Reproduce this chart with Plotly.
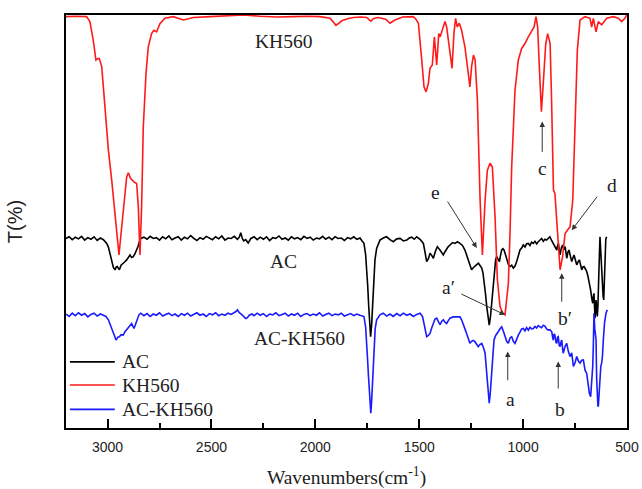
import plotly.graph_objects as go

# FTIR spectra, offset vertically for display. Each entry: (wavenumber cm-1, T %).
kh560_points = [
    (3200, 99.6), (3150, 99.7), (3101, 99.6), (3085, 98.4), (3069, 93.9), (3056, 89.1),
    (3048, 89.4), (3040, 89.5), (3028, 87.5), (3012, 77.8), (2996, 67.3), (2980, 60.0),
    (2964, 51.1), (2953, 45.5), (2945, 41.9), (2935, 47.1), (2921, 55.2), (2908, 60.8),
    (2900, 61.8), (2889, 60.4), (2873, 59.6), (2860, 59.2), (2852, 53.6), (2844, 41.9),
    (2836, 53.6), (2828, 72.9), (2815, 85.8), (2804, 92.3), (2788, 95.5), (2777, 96.3),
    (2764, 95.9), (2748, 97.9), (2724, 99.2), (2684, 99.6), (2635, 98.8), (2587, 99.4),
    (2507, 99.6), (2427, 99.8), (2347, 100.0), (2266, 99.7), (2186, 99.5), (2106, 99.6),
    (2040, 99.7), (1978, 99.6), (1929, 99.2), (1915, 98.4), (1901, 97.5), (1887, 98.0),
    (1873, 98.6), (1845, 99.1), (1817, 99.4), (1780, 99.5), (1753, 99.4), (1740, 98.8),
    (1733, 98.5), (1721, 99.1), (1700, 99.4), (1680, 99.2), (1660, 98.9), (1641, 98.0),
    (1617, 98.8), (1580, 99.5), (1540, 99.6), (1528, 99.6), (1516, 99.0), (1504, 98.0),
    (1488, 89.1), (1477, 82.6), (1467, 81.4), (1456, 83.4), (1448, 87.1), (1437, 87.9),
    (1427, 94.7), (1416, 87.9), (1406, 95.5), (1400, 94.7), (1392, 95.9), (1376, 98.4),
    (1368, 97.1), (1352, 91.5), (1342, 87.1), (1333, 95.5), (1325, 99.2), (1317, 97.1),
    (1307, 98.0), (1296, 96.3), (1280, 92.3), (1268, 87.5), (1256, 82.6), (1248, 87.5),
    (1239, 90.3), (1231, 89.1), (1220, 79.4), (1207, 55.2), (1196, 41.9), (1183, 55.2),
    (1172, 62.4), (1159, 64.1), (1148, 63.2), (1135, 51.1), (1124, 36.0), (1111, 29.4),
    (1098, 27.8), (1087, 27.4), (1071, 35.0), (1063, 47.1), (1055, 63.2), (1039, 81.8),
    (1023, 89.1), (1007, 91.9), (991, 93.1), (975, 94.7), (959, 95.9), (947, 97.1),
    (938, 99.6), (930, 97.1), (922, 87.5), (912, 76.6), (903, 83.4), (891, 93.1),
    (882, 95.5), (870, 93.1), (863, 79.4), (854, 57.6), (847, 56.8), (838, 50.0),
    (830, 43.9), (822, 38.3), (810, 41.5), (798, 47.1), (787, 47.9), (774, 48.7),
    (761, 55.2), (750, 71.3), (739, 91.5), (726, 98.8), (702, 99.6), (678, 99.2),
    (670, 97.1), (662, 99.2), (649, 95.9), (638, 98.4), (622, 97.6), (598, 99.2),
    (566, 99.6), (542, 99.2), (526, 98.4), (510, 99.2), (502, 100.0),
]

ac_points = [
    (3200, 45.9), (3185, 46.3), (3170, 45.6), (3155, 46.2), (3140, 45.8), (3125, 46.4),
    (3110, 45.5), (3095, 46.1), (3080, 45.7), (3065, 46.3), (3050, 45.4), (3035, 46.0),
    (3020, 45.6), (3004, 44.7), (2996, 43.8), (2988, 42.3), (2980, 40.3), (2972, 38.9),
    (2964, 38.3), (2958, 39.0), (2953, 39.1), (2948, 38.6), (2943, 38.3), (2935, 39.4),
    (2927, 39.9), (2918, 40.2), (2908, 40.7), (2900, 41.2), (2892, 41.9), (2884, 41.3),
    (2876, 41.5), (2868, 42.2), (2860, 43.1), (2853, 44.0), (2847, 45.1), (2840, 45.9),
    (2825, 46.2), (2810, 45.7), (2795, 46.4), (2780, 45.9), (2765, 46.1), (2750, 45.5),
    (2735, 46.3), (2720, 45.8), (2705, 46.5), (2690, 45.6), (2675, 46.0), (2660, 46.3),
    (2645, 45.5), (2630, 46.2), (2615, 45.8), (2600, 46.6), (2585, 45.9), (2570, 45.4),
    (2555, 46.1), (2540, 45.7), (2525, 46.4), (2510, 46.0), (2495, 45.6), (2480, 46.3),
    (2465, 45.8), (2450, 46.5), (2435, 45.5), (2420, 46.0), (2405, 45.9), (2390, 46.4),
    (2375, 45.7), (2366, 46.2), (2359, 47.3), (2352, 46.0), (2345, 45.3), (2335, 45.6),
    (2323, 44.8), (2310, 45.9), (2295, 46.3), (2280, 45.6), (2265, 46.2), (2250, 45.7),
    (2235, 46.3), (2220, 45.4), (2205, 46.1), (2190, 45.9), (2175, 46.5), (2160, 45.7),
    (2145, 46.0), (2130, 45.5), (2115, 46.3), (2100, 45.8), (2085, 46.1), (2070, 45.6),
    (2055, 46.4), (2040, 45.9), (2025, 46.2), (2010, 45.5), (1995, 46.0), (1980, 45.8),
    (1965, 46.4), (1950, 45.7), (1935, 46.2), (1920, 45.6), (1905, 46.3), (1890, 45.9),
    (1875, 46.0), (1860, 45.4), (1845, 46.1), (1830, 45.8), (1815, 46.3), (1800, 45.7),
    (1785, 46.0), (1775, 45.3), (1766, 44.7), (1758, 42.0), (1753, 39.1), (1748, 34.5),
    (1743, 29.4), (1738, 24.5), (1734, 22.1), (1729, 25.0), (1724, 31.0), (1718, 37.0),
    (1713, 40.7), (1705, 43.5), (1697, 44.7), (1689, 45.5), (1673, 46.0), (1657, 46.3),
    (1641, 45.6), (1625, 45.1), (1608, 45.8), (1592, 45.9), (1576, 45.3), (1560, 45.5),
    (1548, 46.0), (1536, 46.2), (1524, 45.7), (1512, 46.3), (1496, 45.7), (1480, 44.7),
    (1472, 42.5), (1464, 40.3), (1456, 41.0), (1448, 42.3), (1440, 41.8), (1432, 41.1),
    (1422, 42.8), (1413, 43.9), (1400, 43.1), (1392, 42.4), (1384, 41.9), (1378, 42.5),
    (1371, 43.1), (1362, 43.8), (1352, 44.3), (1340, 44.9), (1328, 44.7), (1316, 45.1),
    (1304, 44.7), (1292, 44.2), (1280, 43.1), (1272, 41.8), (1264, 40.3), (1256, 39.0),
    (1248, 38.3), (1240, 38.8), (1231, 39.1), (1222, 39.6), (1215, 39.9), (1207, 39.4),
    (1199, 38.7), (1193, 37.5), (1188, 35.8), (1181, 32.5), (1175, 29.4), (1169, 26.5),
    (1163, 24.9), (1157, 27.0), (1150, 31.0), (1144, 35.5), (1138, 39.1), (1132, 40.8),
    (1127, 41.5), (1120, 40.6), (1114, 40.3), (1108, 42.0), (1103, 43.1), (1097, 43.4),
    (1092, 43.1), (1085, 42.0), (1079, 40.7), (1071, 39.6), (1063, 39.1), (1055, 39.4),
    (1047, 38.7), (1039, 39.2), (1031, 40.3), (1023, 41.8), (1015, 43.1), (1007, 43.6),
    (999, 44.3), (991, 43.8), (983, 44.6), (975, 44.7), (967, 44.2), (959, 45.0),
    (951, 44.7), (943, 45.2), (935, 44.6), (927, 45.1), (919, 45.6), (911, 45.9),
    (903, 45.2), (895, 45.7), (887, 45.5), (879, 46.0), (871, 46.3), (863, 45.4),
    (855, 44.7), (846, 43.6), (838, 43.1), (834, 44.2), (830, 44.7), (826, 43.0),
    (822, 41.9), (816, 43.6), (810, 44.3), (804, 43.2), (798, 43.9), (794, 42.5),
    (790, 41.1), (784, 42.6), (779, 43.1), (772, 41.5), (766, 40.3), (760, 41.2),
    (755, 41.9), (748, 40.6), (742, 39.5), (735, 40.3), (729, 40.7), (723, 39.4),
    (718, 38.3), (712, 39.0), (707, 39.1), (700, 38.5), (694, 37.9), (689, 37.0),
    (684, 35.8), (680, 34.8), (675, 33.4), (670, 31.5), (665, 30.2), (662, 31.8),
    (659, 32.6), (656, 29.0), (654, 26.6), (651, 28.5), (649, 31.0), (646, 29.2),
    (643, 27.0), (640, 29.5), (638, 31.8), (634, 40.0), (630, 46.3), (627, 43.5),
    (625, 40.7), (622, 37.0), (619, 33.4), (615, 32.0), (612, 31.0), (609, 37.0),
    (606, 44.7), (602, 45.8), (598, 46.3),
]

ac_kh560_points = [
    (3200, 27.6), (3185, 27.0), (3170, 27.8), (3155, 27.2), (3140, 27.9), (3125, 27.3),
    (3110, 27.7), (3095, 26.9), (3080, 27.5), (3065, 27.8), (3050, 27.1), (3035, 27.6),
    (3020, 27.3), (3008, 27.0), (2996, 26.2), (2985, 24.8), (2972, 22.9), (2965, 21.8),
    (2959, 21.3), (2951, 22.0), (2943, 22.1), (2935, 22.6), (2925, 22.5), (2916, 23.3),
    (2905, 24.0), (2895, 24.5), (2884, 25.3), (2878, 24.6), (2873, 24.1), (2866, 25.0),
    (2860, 25.7), (2854, 26.7), (2849, 27.4), (2840, 27.8), (2825, 27.2), (2810, 27.7),
    (2795, 27.0), (2780, 27.6), (2765, 27.3), (2750, 27.9), (2735, 27.1), (2720, 27.5),
    (2705, 27.8), (2690, 27.2), (2675, 27.6), (2660, 27.0), (2645, 27.7), (2630, 27.3),
    (2615, 27.8), (2600, 27.1), (2585, 27.5), (2570, 27.9), (2555, 27.3), (2540, 27.6),
    (2525, 27.0), (2510, 27.7), (2495, 27.4), (2480, 27.9), (2465, 27.2), (2450, 27.6),
    (2435, 27.3), (2420, 27.8), (2405, 27.5), (2390, 27.9), (2382, 28.2), (2375, 28.6),
    (2366, 27.9), (2355, 27.5), (2345, 27.0), (2335, 26.5), (2327, 26.7), (2318, 27.3),
    (2305, 27.6), (2295, 27.2), (2280, 27.8), (2265, 27.3), (2250, 27.7), (2235, 27.0),
    (2220, 27.6), (2205, 27.4), (2190, 27.9), (2175, 27.2), (2160, 27.5), (2145, 27.8),
    (2130, 27.1), (2115, 27.6), (2100, 27.3), (2085, 27.8), (2070, 27.0), (2055, 27.5),
    (2040, 27.7), (2025, 27.2), (2010, 27.6), (1995, 27.3), (1980, 27.9), (1965, 27.1),
    (1950, 27.5), (1935, 27.8), (1920, 27.2), (1905, 27.6), (1890, 27.4), (1875, 27.8),
    (1860, 27.1), (1845, 27.5), (1830, 27.7), (1815, 27.2), (1800, 27.6), (1785, 27.3),
    (1775, 27.1), (1766, 27.0), (1758, 24.5), (1753, 21.3), (1749, 17.0), (1745, 13.2),
    (1741, 9.0), (1737, 5.2), (1733, 3.6), (1729, 6.5), (1726, 10.0), (1722, 15.5),
    (1718, 20.5), (1712, 24.0), (1705, 26.2), (1697, 27.0), (1689, 27.4), (1673, 27.8),
    (1657, 27.1), (1641, 27.6), (1625, 27.0), (1608, 27.7), (1592, 27.2), (1576, 27.8),
    (1560, 27.3), (1544, 27.6), (1528, 27.0), (1512, 27.5), (1496, 27.8), (1484, 27.0),
    (1472, 24.5), (1464, 22.1), (1456, 22.4), (1448, 22.9), (1440, 24.2), (1432, 25.3),
    (1424, 26.4), (1416, 26.6), (1408, 25.6), (1400, 25.0), (1392, 25.8), (1384, 26.2),
    (1376, 25.6), (1368, 25.3), (1360, 26.0), (1352, 26.6), (1336, 26.9), (1320, 26.9),
    (1304, 26.9), (1296, 26.2), (1288, 25.3), (1280, 24.0), (1272, 22.9), (1264, 21.8),
    (1256, 20.5), (1248, 21.0), (1240, 21.2), (1232, 20.9), (1224, 20.2), (1216, 19.7),
    (1208, 20.2), (1199, 20.5), (1191, 19.5), (1183, 18.1), (1178, 15.0), (1172, 11.6),
    (1167, 8.0), (1163, 6.0), (1158, 8.5), (1151, 13.2), (1145, 18.5), (1140, 21.3),
    (1132, 22.4), (1124, 22.9), (1116, 23.6), (1110, 24.1), (1103, 24.5), (1095, 23.4),
    (1087, 22.1), (1079, 21.0), (1071, 20.5), (1063, 21.8), (1055, 22.1), (1047, 21.0),
    (1039, 20.5), (1031, 21.6), (1023, 22.5), (1015, 23.2), (1007, 24.0), (999, 24.1),
    (991, 23.5), (983, 24.3), (975, 23.7), (967, 24.4), (959, 24.0), (951, 24.1),
    (943, 24.6), (935, 24.2), (927, 24.8), (919, 24.5), (911, 24.3), (903, 24.9),
    (895, 24.7), (887, 24.0), (879, 23.7), (871, 23.8), (862, 23.3), (858, 22.0),
    (855, 21.3), (851, 22.8), (847, 22.5), (842, 20.8), (838, 20.5), (834, 22.0),
    (831, 22.1), (826, 20.0), (822, 19.7), (818, 20.8), (814, 21.3), (810, 19.2),
    (807, 18.1), (798, 19.8), (790, 20.5), (782, 18.5), (774, 17.3), (766, 18.2),
    (758, 14.9), (750, 15.8), (742, 17.3), (734, 16.2), (726, 15.7), (718, 16.4),
    (710, 16.5), (702, 14.0), (694, 13.2), (688, 11.0), (681, 8.4), (675, 7.6),
    (670, 11.0), (665, 14.9), (662, 20.0), (659, 27.8), (655, 24.0), (649, 21.3),
    (646, 12.0), (643, 6.8), (640, 5.4), (638, 5.2), (634, 9.0), (630, 13.2),
    (626, 15.0), (622, 15.7), (618, 17.5), (614, 21.3), (608, 25.5), (601, 27.8),
    (595, 28.6),
]

series_names = ["AC", "KH560", "AC-KH560"]
series_colors = ["#000000", "#ff1a1a", "#1a1aff"]
series_points = [ac_points, kh560_points, ac_kh560_points]

# Curve labels placed beside each spectrum
curve_label_text = ["KH560", "AC", "AC-KH560"]
curve_label_wn = [2151, 2151, 2074]
curve_label_t = [93.5, 40.3, 21.7]

# Band markers: letter position, arrow tail and arrow head
band_text = ["e", "d", "c", "a\u2032", "b\u2032", "a", "b"]
band_text_wn = [1424, 574, 908, 1360, 798, 1063, 822]
band_text_t = [57.0, 58.8, 62.9, 34.1, 26.6, 6.8, 4.5]
arrow_tail_wn = [1368, 638, 908, 1304, 814, 1074, 831]
arrow_tail_t = [55.2, 56.4, 66.5, 32.6, 30.2, 11.2, 9.2]
arrow_head_wn = [1223, 766, 908, 1087, 814, 1074, 831]
arrow_head_t = [43.6, 47.9, 74.2, 27.4, 37.5, 18.5, 16.1]

# Axis tick positions (cm-1)
major_ticks = [3000, 2500, 2000, 1500, 1000, 500]
minor_ticks = [2750, 2250, 1750, 1250, 750]

SERIF = "Liberation Serif, Times New Roman, serif"
SANS = "Liberation Sans, Arial, sans-serif"
TEXT_COLOR = "#222222"
SERIF_SIZE = 19.5

fig = go.Figure()
for name, color, pts in zip(series_names, series_colors, series_points):
    wn, t = zip(*pts)
    fig.add_trace(go.Scatter(
        x=list(wn), y=list(t), mode="lines", name=name,
        line=dict(color=color, width=1.6), showlegend=False,
    ))

annotations = []
shapes = []
for txt, x, y in zip(curve_label_text, curve_label_wn, curve_label_t):
    annotations.append(dict(x=x, y=y, xref="x", yref="y", text=txt, showarrow=False,
                            font=dict(family=SERIF, size=SERIF_SIZE, color=TEXT_COLOR)))
for txt, x, y in zip(band_text, band_text_wn, band_text_t):
    annotations.append(dict(x=x, y=y, xref="x", yref="y", text=txt, showarrow=False,
                            font=dict(family=SERIF, size=SERIF_SIZE, color=TEXT_COLOR)))
for tx, ty, hx, hy in zip(arrow_tail_wn, arrow_tail_t, arrow_head_wn, arrow_head_t):
    annotations.append(dict(x=hx, y=hy, xref="x", yref="y", ax=tx, ay=ty,
                            axref="x", ayref="y", text="", showarrow=True,
                            arrowhead=2, arrowsize=1.1, arrowwidth=1,
                            arrowcolor="#333333"))

# Key in the lower-left corner of the plot: a short line sample and the series name
key_row_y = [0.160, 0.104, 0.045]
for name, color, ky in zip(series_names, series_colors, key_row_y):
    shapes.append(dict(type="line", xref="paper", yref="paper",
                       x0=0.007, x1=0.087, y0=ky, y1=ky,
                       line=dict(color=color, width=1.6)))
    annotations.append(dict(x=0.096, y=ky, xref="paper", yref="paper", text=name,
                            showarrow=False, xanchor="left", yanchor="middle",
                            font=dict(family=SERIF, size=SERIF_SIZE, color=TEXT_COLOR)))

fig.update_layout(
    width=642, height=489,
    margin=dict(l=66, r=15, t=15, b=61),
    paper_bgcolor="white", plot_bgcolor="white",
    showlegend=False,
    annotations=annotations,
    shapes=shapes,
)
fig.update_xaxes(
    range=[3200, 500], tickmode="array", tickvals=major_ticks,
    ticks="inside", ticklen=9, tickwidth=2, tickcolor="#000",
    minor=dict(ticks="inside", ticklen=5, tickmode="array", tickvals=minor_ticks,
               tickwidth=2, tickcolor="#000", showgrid=False),
    showline=True, linecolor="#000", linewidth=1.5, mirror=True,
    showgrid=False, zeroline=False, automargin=False,
    tickfont=dict(family=SANS, size=14, color=TEXT_COLOR),
    ticklabelstandoff=5,
    title=dict(text="Wavenumbers(cm<sup>-1</sup>)", standoff=20,
               font=dict(family=SERIF, size=SERIF_SIZE, color=TEXT_COLOR)),
)
fig.update_yaxes(
    range=[0, 100], showticklabels=False, ticks="",
    showline=True, linecolor="#000", linewidth=1.5, mirror=True,
    showgrid=False, zeroline=False, automargin=False,
    title=dict(text="T(%)", standoff=36, font=dict(family=SANS, size=20, color=TEXT_COLOR)),
)

fig.write_html("out.html")
